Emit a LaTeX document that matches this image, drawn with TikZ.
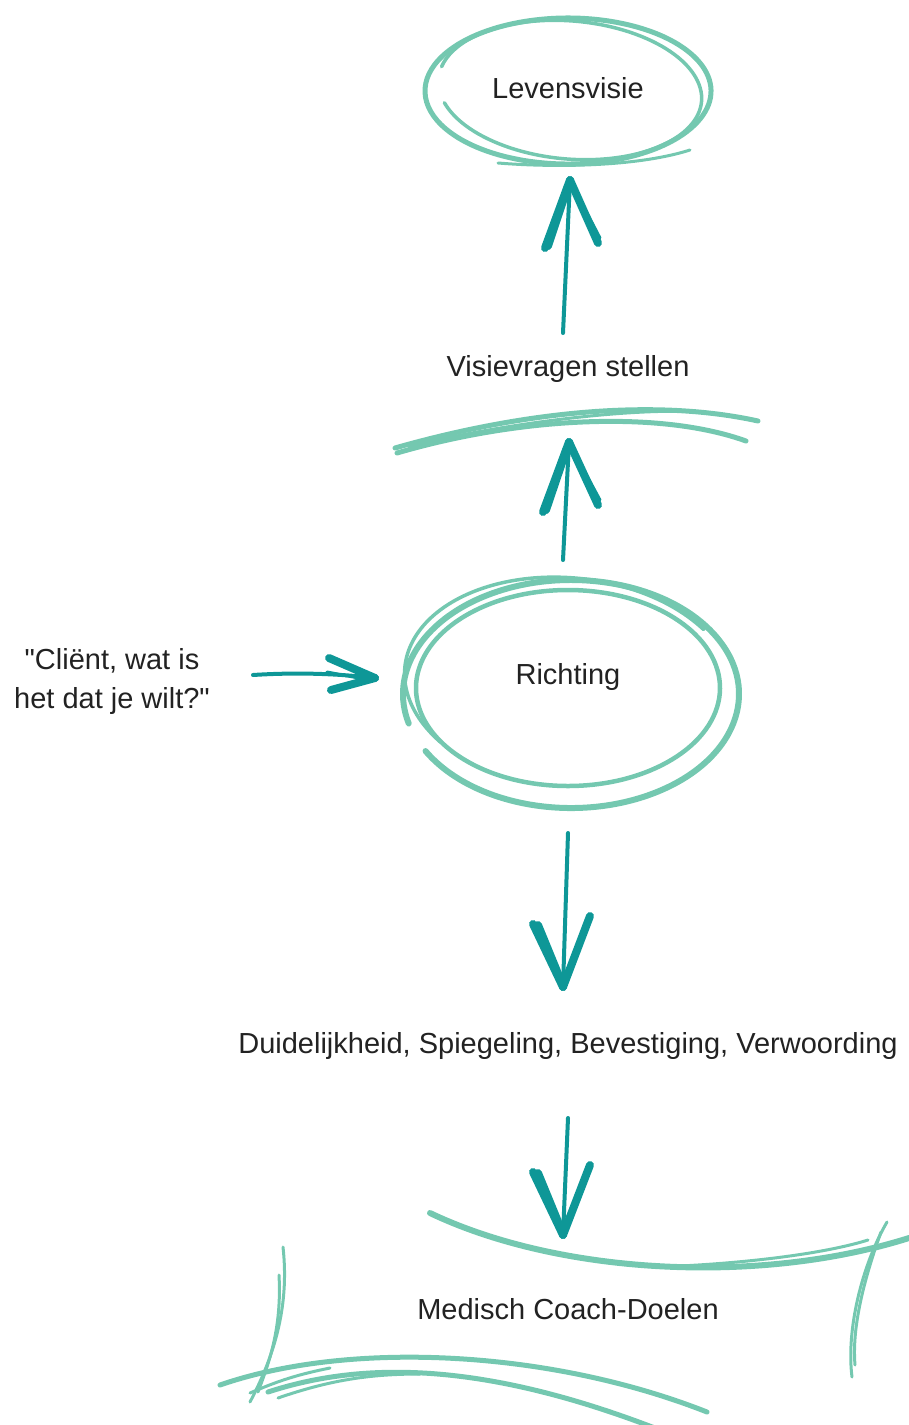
\documentclass[tikz,border=0pt]{standalone}
\usepackage{fontspec}
\setmainfont{Liberation Sans}[Ligatures=TeXOff]
\usetikzlibrary{calc}
\definecolor{mint}{RGB}{116,200,176}
\definecolor{arrowteal}{RGB}{14,151,151}
\definecolor{ink}{RGB}{34,34,34}
\begin{document}
\begin{tikzpicture}[x=1pt,y=-1pt,
  txt/.style={text=ink, font=\fontsize{29}{39}\selectfont, inner sep=0pt, align=center},
  mintline/.style={draw=mint, line width=5pt, line cap=round},
  thinmint/.style={draw=mint, line width=3pt, line cap=round},
  shaft/.style={draw=arrowteal, line width=4pt, line cap=round},
  barb/.style={draw=arrowteal, line width=8pt, line cap=round},
  thinbarb/.style={draw=arrowteal, line width=3pt, line cap=round}]
\useasboundingbox (0,0) rectangle (909,1425);

% ---------- labels ----------
\node[txt] (lev)   at (568,88)   {Levensvisie};
\node[txt] (visie) at (568,369)  {Visievragen stellen};
\node[txt] (richt) at (568,677)  {Richting};
\node[txt] (client) at (112,681) {"Cliënt, wat is\\het dat je wilt?"};
\node[txt] (duid)  at (568,1046) {Duidelijkheid, Spiegeling, Bevestiging, Verwoording};
\node[txt] (doel)  at (568,1309) {Medisch Coach-Doelen};

% ---------- sketched ring around Levensvisie ----------
\draw[mintline] (568,91) ++(245:143pt and 73pt)
  arc[start angle=245, end angle=610, x radius=143pt, y radius=73pt];
\draw[thinmint, line width=3.5pt, rotate around={-5:(570,90)}] (570,90) ++(200:132pt and 69pt)
  arc[start angle=200, end angle=530, x radius=132pt, y radius=69pt];
\draw[thinmint] (498,163) .. controls (560,168) and (640,166) .. (690,150);

% ---------- arc under "Visievragen stellen" ----------
\draw[mintline] (395,448) .. controls (500,418) and (640,395) .. (758,421);
\draw[mintline] (397,453) .. controls (520,417) and (660,410) .. (746,441);
\draw[thinmint] (410,446) .. controls (520,420) and (640,408) .. (700,412);

% ---------- sketched ring around Richting ----------
\draw[mintline, line width=6pt] (571,694) ++(210:168pt and 114pt)
  arc[start angle=210, end angle=555, x radius=168pt, y radius=114pt];
\draw[mintline, line width=4.5pt] (568,688) ++(222:152pt and 98pt)
  arc[start angle=222, end angle=590, x radius=152pt, y radius=98pt];
\draw[thinmint, line width=3.5pt, rotate around={-6:(570,684)}] (570,684) ++(40:166pt and 106pt)
  arc[start angle=40, end angle=222, x radius=166pt, y radius=106pt];

% ---------- frame around "Medisch Coach-Doelen" ----------
\draw[mintline, line width=6pt] (430,1213) .. controls (560,1275) and (760,1285) .. (909,1238);
\draw[thinmint] (680,1266) .. controls (760,1262) and (830,1252) .. (868,1240);
\draw[thinmint] (887,1222) .. controls (862,1265) and (846,1330) .. (852,1377);
\draw[thinmint] (881,1232) .. controls (862,1285) and (852,1330) .. (855,1365);
\draw[thinmint] (283,1247) .. controls (290,1310) and (272,1360) .. (250,1402);
\draw[thinmint] (279,1275) .. controls (282,1330) and (268,1365) .. (258,1392);
\draw[mintline] (220,1385) .. controls (350,1340) and (550,1350) .. (707,1412);
\draw[mintline] (268,1392) .. controls (360,1362) and (480,1360) .. (660,1430);
\draw[thinmint] (250,1393) .. controls (280,1380) and (300,1374) .. (330,1368);
\draw[thinmint] (278,1398) .. controls (330,1380) and (370,1374) .. (420,1374);

% ---------- arrows ----------
% Visievragen stellen -> Levensvisie
\coordinate (a1s) at (563,333); \coordinate (a1t) at (570,180);
\draw[shaft] (a1s) -- (a1t);
\draw[barb] (a1t) -- ($(a1t)+(-25,68)$);
\draw[barb] ($(a1t)+(-2,6)$) -- ($(a1t)+(-22,66)$);
\draw[barb] (a1t) -- ($(a1t)+(28,63)$);
\draw[thinbarb] ($(a1t)+(3,6)$) -- ($(a1t)+(30,58)$);

% Richting -> Visievragen stellen
\coordinate (a2s) at (563,560); \coordinate (a2t) at (569,442);
\draw[shaft] (a2s) -- (a2t);
\draw[barb] (a2t) -- ($(a2t)+(-26,70)$);
\draw[barb] ($(a2t)+(-2,6)$) -- ($(a2t)+(-23,68)$);
\draw[barb] (a2t) -- ($(a2t)+(29,63)$);
\draw[thinbarb] ($(a2t)+(3,6)$) -- ($(a2t)+(31,58)$);

% "Client" question -> Richting
\coordinate (a3s) at (253,675); \coordinate (a3t) at (375,678);
\draw[shaft] (a3s) .. controls (300,672) and (340,674) .. (a3t);
\draw[barb] (a3t) -- ($(a3t)+(-46,-20)$);
\draw[barb] (a3t) -- ($(a3t)+(-44,12)$);
\draw[thinbarb] ($(a3t)+(-6,2)$) -- ($(a3t)+(-48,-6)$);

% Richting -> Duidelijkheid ...
\coordinate (a4s) at (568,833); \coordinate (a4t) at (563,987);
\draw[shaft] (a4s) -- (a4t);
\draw[barb] (a4t) -- ($(a4t)+(-30,-63)$);
\draw[barb] ($(a4t)+(-2,-6)$) -- ($(a4t)+(-25,-62)$);
\draw[barb] (a4t) -- ($(a4t)+(27,-71)$);
\draw[thinbarb] ($(a4t)+(2,-8)$) -- ($(a4t)+(23,-66)$);

% Duidelijkheid ... -> Medisch Coach-Doelen
\coordinate (a5s) at (568,1118); \coordinate (a5t) at (563,1235);
\draw[shaft] (a5s) -- (a5t);
\draw[barb] (a5t) -- ($(a5t)+(-30,-63)$);
\draw[barb] ($(a5t)+(-2,-6)$) -- ($(a5t)+(-25,-62)$);
\draw[barb] (a5t) -- ($(a5t)+(27,-70)$);
\draw[thinbarb] ($(a5t)+(2,-8)$) -- ($(a5t)+(23,-65)$);
\end{tikzpicture}
\end{document}
